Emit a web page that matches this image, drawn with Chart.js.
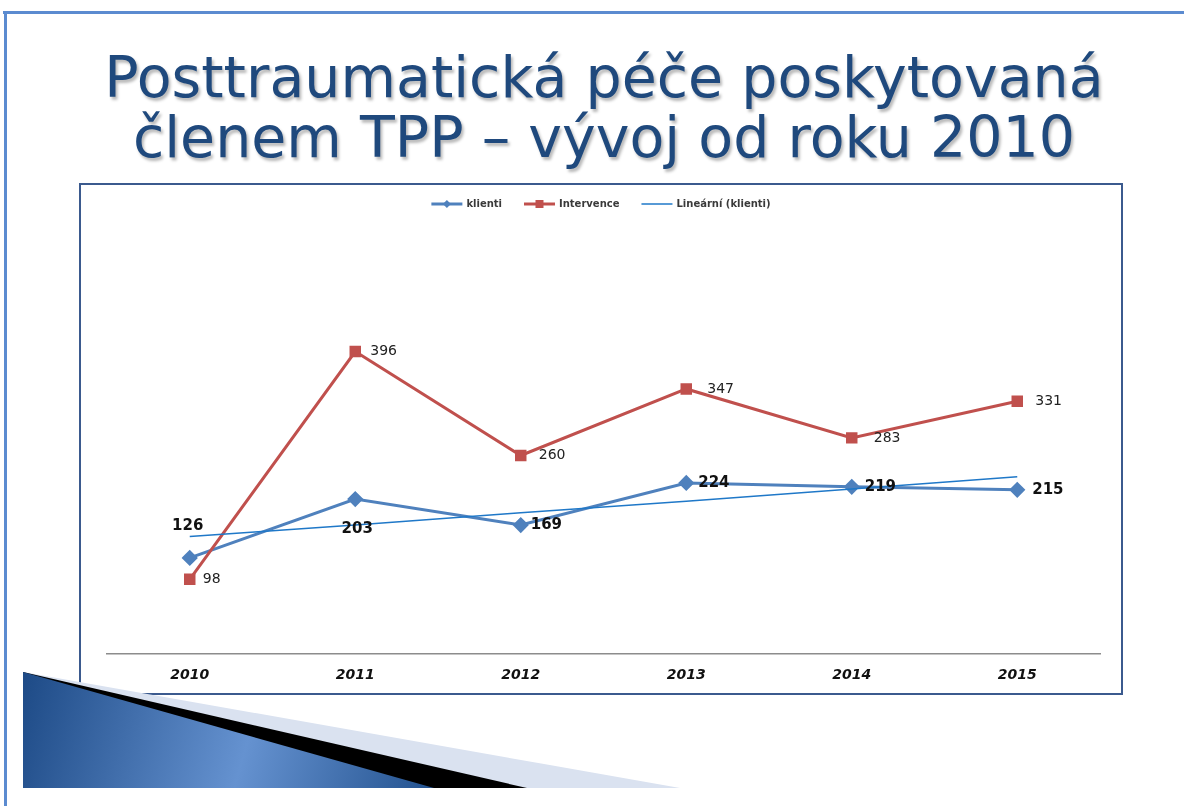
<!DOCTYPE html>
<html>
<head>
<meta charset="utf-8">
<script src="https://cdn.jsdelivr.net/npm/chart.js@4"></script>
<style>
  html, body { margin: 0; padding: 0; background: #fff; }
  body { width: 1184px; height: 806px; position: relative; overflow: hidden; }
  #topline { position: absolute; left: 3px; top: 11px; width: 1181px; height: 3px; background: #5B8BD0; }
  #leftline { position: absolute; left: 4px; top: 11px; width: 3px; height: 795px; background: #5B8BD0; }
  .title { position: absolute; left: 12px; width: 1184px; text-align: center; font-family: "DejaVu Sans", sans-serif;
           font-size: 57px; color: #1F497D; text-shadow: 2px 3px 3px rgba(0,0,0,0.28); white-space: nowrap; }
  #t1 { top: 44px; }
  #t2 { top: 104px; }
  #box { position: absolute; left: 79px; top: 183px; width: 1040px; height: 508px; border: 2px solid #3B5A8E; background: #fff; }
  #wedge { position: absolute; left: 0; top: 0; width: 1184px; height: 806px; pointer-events: none; }
</style>
</head>
<body>
<div id="topline"></div>
<div id="leftline"></div>
<div class="title" id="t1">Posttraumatická péče poskytovaná</div>
<div class="title" id="t2">členem TPP – vývoj od roku 2010</div>
<div id="box"><canvas id="c"></canvas></div>
<svg id="wedge" width="1184" height="806">
  <defs>
    <linearGradient id="bg" x1="23" y1="672" x2="434" y2="788" gradientUnits="userSpaceOnUse">
      <stop offset="0" stop-color="#1D4A86"/>
      <stop offset="0.55" stop-color="#6592D0"/>
      <stop offset="1" stop-color="#23528F"/>
    </linearGradient>
  </defs>
  <polygon points="23,672 680,788 23,788" fill="#DAE2F0"/>
  <polygon points="23,672 527,788 23,788" fill="#000"/>
  <polygon points="23,672 434,788 23,788" fill="url(#bg)"/>
</svg>
<script>
const years = ["2010", "2011", "2012", "2013", "2014", "2015"];
const klienti = [126, 203, 169, 224, 219, 215];
const intervence = [98, 396, 260, 347, 283, 331];
const trendKlienti = [154, 169, 185, 200, 216, 232];
const seriesNames = ["klienti", "Intervence", "Lineární (klienti)"];

const labelPlugin = {
  id: 'valueLabels',
  afterDatasetsDraw(chart) {
    const ctx = chart.ctx;
    chart.data.datasets.forEach((ds, i) => {
      if (!ds.labelCfg) return;
      const meta = chart.getDatasetMeta(i);
      ctx.save();
      ctx.font = ds.labelCfg.font;
      ctx.fillStyle = ds.labelCfg.color;
      ctx.textBaseline = 'middle';
      meta.data.forEach((el, j) => {
        const o = ds.labelCfg.offsets[j];
        ctx.textAlign = o[2];
        ctx.fillText(String(ds.data[j]), el.x + o[0], el.y + o[1]);
      });
      ctx.restore();
    });
  }
};

const legendPlugin = {
  id: 'xlLegend',
  afterDraw(chart) {
    const ctx = chart.ctx;
    const y = 19;
    const lineW = 31, gapT = 4, gapItem = 22;
    ctx.save();
    ctx.font = 'bold 10px "DejaVu Sans", sans-serif';
    ctx.textBaseline = 'middle';
    const items = chart.data.datasets.map(ds => ({ ds, w: lineW + gapT + ctx.measureText(ds.label).width }));
    const total = items.reduce((s, it) => s + it.w, 0) + gapItem * (items.length - 1);
    let x = chart.width / 2 - total / 2;
    items.forEach(it => {
      const ds = it.ds;
      ctx.strokeStyle = ds.borderColor;
      ctx.lineWidth = ds.borderWidth;
      ctx.beginPath(); ctx.moveTo(x, y); ctx.lineTo(x + lineW, y); ctx.stroke();
      if (ds.pointRadius > 0) {
        ctx.fillStyle = ds.pointBackgroundColor;
        const cx = x + lineW / 2;
        ctx.beginPath();
        if (ds.pointStyle === 'rectRot') {
          ctx.moveTo(cx, y - 4); ctx.lineTo(cx + 4, y); ctx.lineTo(cx, y + 4); ctx.lineTo(cx - 4, y);
        } else {
          ctx.rect(cx - 4, y - 4, 8, 8);
        }
        ctx.closePath(); ctx.fill();
      }
      ctx.fillStyle = '#3a3a3a';
      ctx.textAlign = 'left';
      ctx.fillText(ds.label, x + lineW + gapT, y);
      x += it.w + gapItem;
    });
    ctx.restore();
  }
};

new Chart(document.getElementById('c'), {
  type: 'line',
  data: {
    labels: years,
    datasets: [
      {
        label: seriesNames[0], data: klienti, borderColor: '#4F81BD', backgroundColor: '#4F81BD',
        pointBackgroundColor: '#4F81BD', pointBorderColor: '#4F81BD', borderWidth: 3,
        pointStyle: 'rectRot', pointRadius: 6, tension: 0, order: 2,
        labelCfg: { font: 'bold 15px "DejaVu Sans", sans-serif', color: '#111',
          offsets: [[-2, -32, 'center'], [2, 30, 'center'], [10, 0, 'left'], [12, 0, 'left'], [13, 0, 'left'], [15, 0, 'left']] }
      },
      {
        label: seriesNames[1], data: intervence, borderColor: '#C0504D', backgroundColor: '#C0504D',
        pointBackgroundColor: '#C0504D', pointBorderColor: '#C0504D', borderWidth: 3,
        pointStyle: 'rect', pointRadius: 6, tension: 0, order: 1,
        labelCfg: { font: '14px "DejaVu Sans", sans-serif', color: '#222',
          offsets: [[13, 0, 'left'], [15, 0, 'left'], [18, 0, 'left'], [21, 0, 'left'], [22, 0, 'left'], [18, 0, 'left']] }
      },
      {
        label: seriesNames[2], data: trendKlienti, borderColor: '#1F78C8', backgroundColor: '#1F78C8',
        borderWidth: 1.5, pointRadius: 0, tension: 0, order: 0
      }
    ]
  },
  options: {
    responsive: true, maintainAspectRatio: false, animation: false,
    layout: { padding: { left: 26, right: 21, top: 87, bottom: -4 } },
    plugins: { legend: { display: false }, tooltip: { enabled: false } },
    scales: {
      x: {
        offset: true,
        grid: { display: false, drawTicks: false },
        border: { display: true, color: '#8c8c8c', width: 1.5 },
        ticks: { color: '#111', padding: 13, font: { family: '"DejaVu Sans", sans-serif', size: 14, style: 'italic', weight: 'bold' } }
      },
      y: { display: false, min: 0, max: 500 }
    }
  },
  plugins: [labelPlugin, legendPlugin]
});
</script>
</body>
</html>
